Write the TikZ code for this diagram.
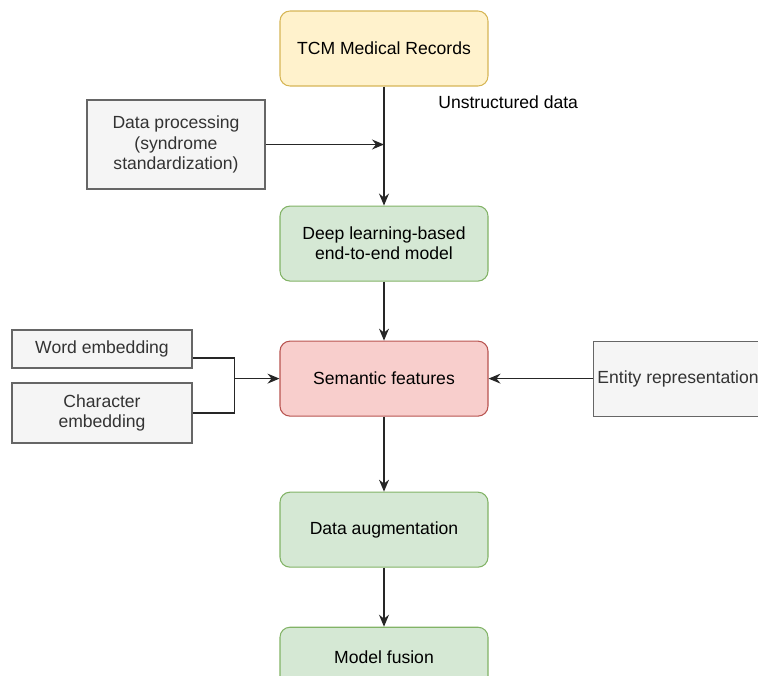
\documentclass[tikz,border=0pt]{standalone}
\usepackage{fontspec}
\setmainfont{Liberation Sans}
\usepackage{xcolor}
\usetikzlibrary{arrows.meta,positioning}

\definecolor{ylwfill}{HTML}{FFF2CC}
\definecolor{ylwline}{HTML}{D6B656}
\definecolor{grnfill}{HTML}{D5E8D4}
\definecolor{grnline}{HTML}{82B366}
\definecolor{redfill}{HTML}{F8CECC}
\definecolor{redline}{HTML}{B85450}
\definecolor{gryfill}{HTML}{F5F5F5}
\definecolor{gryline}{HTML}{666666}
\definecolor{grytext}{HTML}{333333}

\begin{document}
\begin{tikzpicture}[
    font=\fontsize{10}{11.5}\selectfont,
    stage/.style={rectangle, rounded corners=0.2cm, draw, line width=0.6pt, minimum width=4.16cm, minimum height=1.5cm, align=center, inner sep=0pt},
    side/.style={rectangle, draw=gryline, fill=gryfill, text=grytext, line width=0.6pt, align=center, inner sep=0pt},
    link/.style={line width=0.7pt, black!85},
    arrow/.style={link, -{Stealth[length=2.4mm,width=2mm,inset=0.8mm]}}
]
\useasboundingbox (0,0) rectangle (15.16,-13.5);
\clip (0,0) rectangle (15.16,-13.5);

\node[stage, fill=ylwfill, draw=ylwline] (tcm) at (7.68,-0.97) {TCM Medical Records};
\node[stage, below=2.38cm of tcm, fill=grnfill, draw=grnline] (deep) {Deep learning-based\\end-to-end model};
\node[stage, below=1.18cm of deep, fill=redfill, draw=redline] (sem) {Semantic features};
\node[stage, below=1.5cm of sem, fill=grnfill, draw=grnline] (aug) {Data augmentation};
\node[stage, below=1.18cm of aug, fill=grnfill, draw=grnline, minimum height=1.2cm] (fus) {Model fusion};

\node[side, minimum width=3.56cm, minimum height=1.78cm] (proc) at (3.52,-2.89) {Data processing\\(syndrome\\standardization)};
\node[anchor=west, inner sep=0pt] (unstr) at (8.76,-2.04) {Unstructured data};

\node[side, minimum width=3.6cm, minimum height=0.76cm] (word) at (2.04,-6.98) {Word embedding};
\node[side, minimum width=3.6cm, minimum height=1.2cm] (char) at (2.04,-8.26) {Character\\embedding};
\node[side, right=2.08cm of sem, minimum width=3.4cm, minimum height=1.5cm] (ent) {Entity representation};
\coordinate[left=0.9cm of sem.west] (join);

\draw[arrow] (tcm) -- (deep);
\draw[arrow] (proc.east) -- (proc.east -| tcm.south);
\draw[arrow] (deep) -- (sem);
\draw[link] ([yshift=-0.18cm]word.east) -| (join);
\draw[link] (char.east) -| (join);
\draw[arrow] (join) -- (sem);
\draw[arrow] (ent) -- (sem);
\draw[arrow] (sem) -- (aug);
\draw[arrow] (aug) -- (fus);
\end{tikzpicture}
\end{document}
